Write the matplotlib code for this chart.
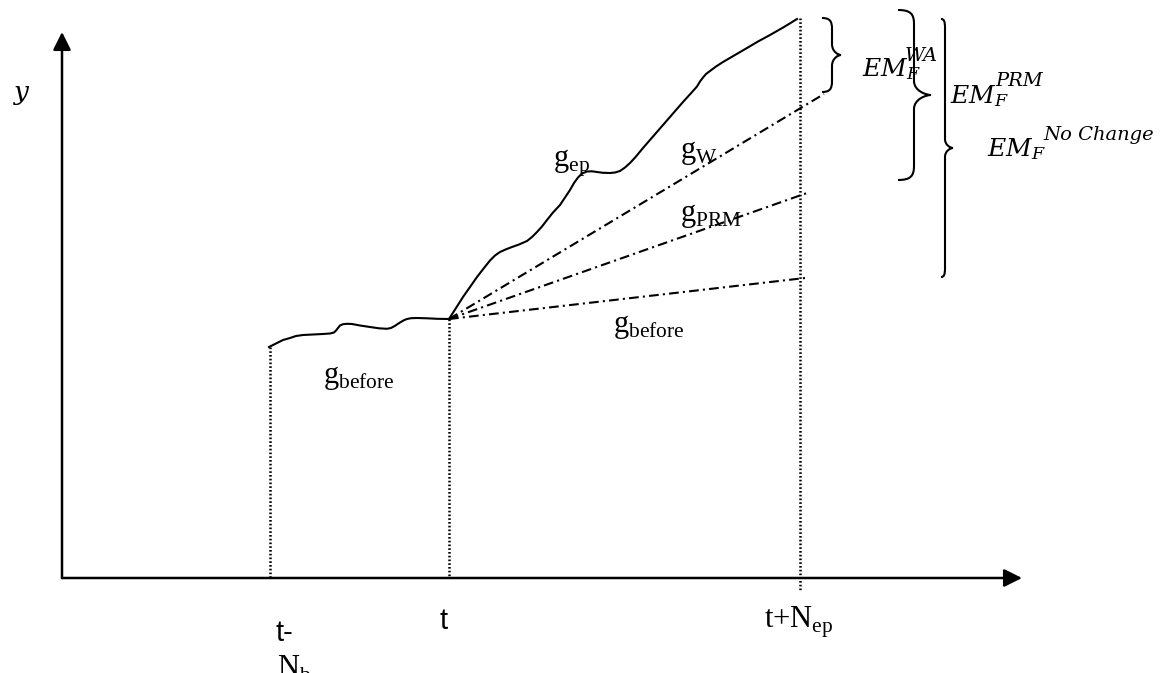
import numpy as np
import matplotlib
matplotlib.use("Agg")
import matplotlib.pyplot as plt
from matplotlib.path import Path
from matplotlib.patches import PathPatch

plt.rcParams['mathtext.fontset'] = 'custom'
plt.rcParams['mathtext.rm'] = 'Liberation Serif'
plt.rcParams['mathtext.it'] = 'DejaVu Serif:italic'
plt.rcParams['mathtext.bf'] = 'Liberation Serif:bold'
plt.rcParams['lines.scale_dashes'] = False

# sketch coordinates (pixel space of the original drawing, y downwards)
t_before, t_now, t_end = 270, 449, 800
x_axis_y, y_axis_x = 578, 62

before_x = [269, 273, 277, 283, 290, 296, 303, 313, 323, 330, 334, 336, 338, 340, 343, 347,
            352, 360, 370, 379, 387, 391, 395, 400, 404, 407, 411, 417, 427, 437, 449]
before_y = [347, 345, 343, 340, 338, 336, 335, 334.5, 334, 333.5, 332.5, 330.5, 328, 325.5, 324.2, 323.8,
            324, 325.5, 327, 328.3, 328.8, 328, 325.8, 322.5, 320.2, 319, 318.2, 318, 318.3, 318.8, 319]

ep_x = [449, 456, 463, 470, 477, 484, 490, 495, 500, 506, 512, 519, 527, 532, 537, 542, 547, 553,
        560, 565, 570, 574, 578, 582, 587, 592, 597, 603, 610, 615, 620, 625, 630, 636,
        643, 653, 663, 673, 683, 690, 697, 700, 703, 706, 710, 716, 723, 735, 747, 758, 770, 784, 797]
ep_y = [319, 308, 297, 287, 277, 268, 260.5, 255.5, 252, 249.3, 247, 244.5, 241, 237, 232, 226.5, 220, 212.5,
        205, 197.5, 190, 183, 177.5, 173.5, 171.5, 171.3, 172, 172.8, 173, 172.5, 171, 167.5, 163, 156.5,
        148, 136.5, 125, 113.5, 102, 94.3, 86.5, 81.5, 77.5, 74, 71, 66.5, 62, 55, 48, 41.5, 35, 27, 19]

# forecast end points of the straight extrapolations
fc_names = ["W", "PRM", "before"]
fc_end_x = [824, 807, 805]
fc_end_y = [94, 193, 278]

# error measure labels and their superscripts
em_sup = ["WA", "PRM", "No Change"]

# braces: (top y, bottom y, left x, spine x, tip x, curl)
braces = [(18, 92, 822, 832, 841, 11),
          (10, 180, 898, 914, 931, 14),
          (19, 277, 941, 945, 953, 9)]

fig = plt.figure(figsize=(11.62, 6.73), dpi=100)
ax = fig.add_axes([0, 0, 1, 1])
ax.set_xlim(0, 1162)
ax.set_ylim(673, 0)
ax.axis('off')

# axes with arrows
arr = dict(arrowstyle='-|>,head_length=0.9,head_width=0.45', mutation_scale=12,
           lw=1.8, color='black', shrinkA=0, shrinkB=0)
ax.annotate('', xy=(y_axis_x, 32), xytext=(y_axis_x, x_axis_y), arrowprops=arr)
ax.annotate('', xy=(1022, x_axis_y), xytext=(y_axis_x, x_axis_y), arrowprops=arr)

# dotted verticals
dots = (1.2, 1.5)
ax.plot([t_before, t_before], [before_y[0], x_axis_y], color='black', lw=1.8, dashes=dots)
ax.plot([t_now, t_now], [before_y[-1], x_axis_y], color='black', lw=1.8, dashes=dots)
ax.plot([t_end, t_end], [18, 590], color='black', lw=1.8, dashes=dots)

# solid curves
ax.plot(before_x, before_y, color='black', lw=1.5, solid_joinstyle='round')
ax.plot(ep_x, ep_y, color='black', lw=1.5, solid_joinstyle='round')

# dash-dot forecasts
for ex, ey in zip(fc_end_x, fc_end_y):
    ax.plot([t_now, ex], [before_y[-1], ey], color='black', lw=1.5, dashes=(7, 3, 1.5, 3))


def brace(y0, y1, x0, xs, xt, r):
    ym = (y0 + y1) / 2
    verts = [(x0, y0), (xs - (xs - x0) * 0.2, y0), (xs, y0 + r * 0.3), (xs, y0 + r),
             (xs, ym - r),
             (xs, ym - r * 0.3), (xt - (xt - xs) * 0.3, ym), (xt, ym),
             (xt - (xt - xs) * 0.3, ym), (xs, ym + r * 0.3), (xs, ym + r),
             (xs, y1 - r),
             (xs, y1 - r * 0.3), (xs - (xs - x0) * 0.2, y1), (x0, y1)]
    codes = [Path.MOVETO] + [Path.CURVE4] * 3 + [Path.LINETO] + [Path.CURVE4] * 6 + \
            [Path.LINETO] + [Path.CURVE4] * 3
    ax.add_patch(PathPatch(Path(verts, codes), fill=False, lw=1.5, color='black'))


for b in braces:
    brace(*b)

# labels
gs = 22
ax.text(13, 100, r'$y$', fontsize=19, ha='left', va='baseline')
ax.text(553, 167, r'$\mathrm{g}_{\mathrm{ep}}$', fontsize=gs, ha='left', va='baseline')
ax.text(680, 158, r'$\mathrm{g}_{\mathrm{W}}$', fontsize=gs, ha='left', va='baseline')
ax.text(680, 221, r'$\mathrm{g}_{\mathrm{PRM}}$', fontsize=gs, ha='left', va='baseline')
ax.text(613, 332, r'$\mathrm{g}_{\mathrm{before}}$', fontsize=gs, ha='left', va='baseline')
ax.text(323, 383, r'$\mathrm{g}_{\mathrm{before}}$', fontsize=gs, ha='left', va='baseline')

em_pos = [(862, 76), (950, 103), (987, 156)]
sup_pos = [(905, 61), (995, 86), (1043, 140)]
for (ex, ey), (sx, sy), s in zip(em_pos, sup_pos, em_sup):
    ax.text(ex, ey, r'$EM_F$', fontsize=18, ha='left', va='baseline')
    ax.text(sx, sy, s, fontsize=14, family='DejaVu Serif', style='italic',
            ha='left', va='baseline')

ax.text(276, 641, 't-', fontsize=21, family='Liberation Sans', ha='left', va='baseline')
ax.text(277, 677, r'$\mathrm{N}_{\mathrm{b}}$', fontsize=22, ha='left', va='baseline')
ax.text(439, 629, 't', fontsize=21, family='Liberation Sans', ha='left', va='baseline')
ax.text(764, 628, r'$\mathrm{t{+}N}_{\mathrm{ep}}$', fontsize=22, ha='left', va='baseline')

fig.savefig('out.png', dpi=100)
